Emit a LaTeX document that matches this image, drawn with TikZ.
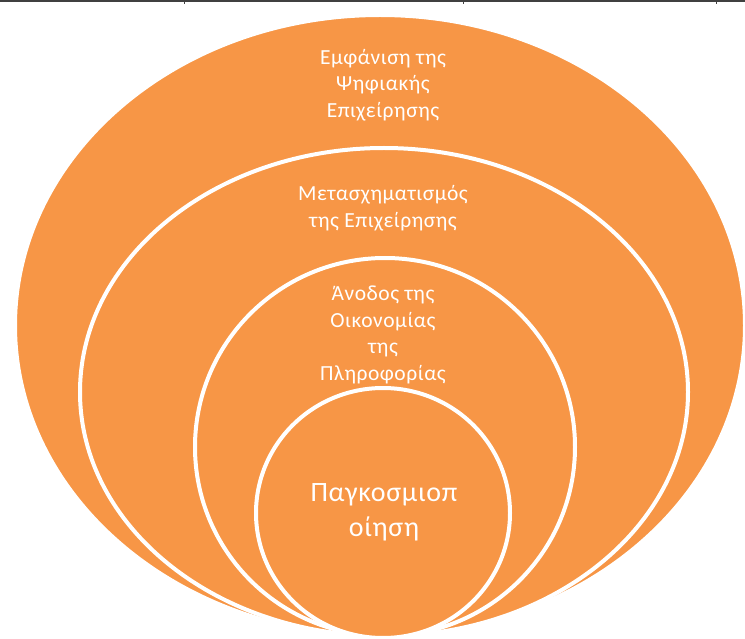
\documentclass[tikz,border=0pt]{standalone}
\usepackage{fontspec}
\setmainfont{Carlito}
\newfontfamily\ringfont[LetterSpace=2.5]{Carlito}
\usetikzlibrary{shapes.geometric}
\definecolor{ringorange}{HTML}{F79646}
\tikzset{ring/.style={ellipse,draw=white,fill=ringorange,line width=4pt,inner sep=0pt}}
\tikzstyle{ringtext}=[text=white,align=center,font=\ringfont\fontsize{21.5}{26.5}\selectfont]
\begin{document}
\begin{tikzpicture}[x=1pt,y=-1pt]
	\useasboundingbox (0,0) rectangle (745,639);
	% table rule along the top edge
	\coordinate (ruleL) at (0,1);
	\coordinate (ruleR) at (745,1);
	\draw[line width=2pt,black!75] (ruleL) -- (ruleR);
	\foreach \tx in {184,463,716}{
		\draw[line width=0.8pt,black!75] (\tx,0) -- (\tx,4);
	}
	% nested rings, outermost first
	\node[ring,minimum width=730pt,minimum height=621pt] (outer) at (380,325.5) {};
	\node[ring,minimum width=608pt,minimum height=488pt] (second) at (384,392) {};
	\node[ring,minimum width=380pt,minimum height=378pt] (third) at (385,447) {};
	\node[ring,minimum width=254pt,minimum height=250pt] (inner) at (383,513) {};
	% texts
	\node[ringtext] (digital) at (383,85) {Εμφάνιση της\\Ψηφιακής\\Επιχείρησης};
	\node[ringtext] (transform) at (383,208) {Μετασχηματισμός\\της Επιχείρησης};
	\node[ringtext] (infoecon) at (383,335) {Άνοδος της\\Οικονομίας\\της\\Πληροφορίας};
	\node[ringtext,font=\ringfont\fontsize{28}{35}\selectfont] (global) at (384,512) {Παγκοσμιοπ\\οίηση};
\end{tikzpicture}
\end{document}
